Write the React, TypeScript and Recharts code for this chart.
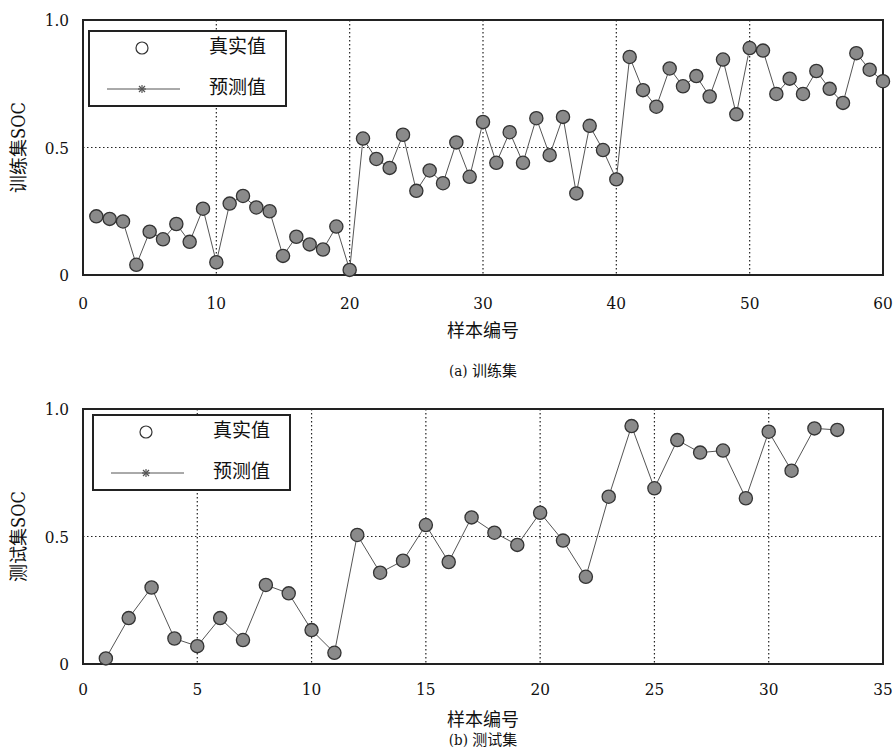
import { CartesianGrid, ComposedChart, Legend, Line, ReferenceArea, Scatter, XAxis, YAxis } from 'recharts'

const SERIF = 'DejaVu Serif Condensed, DejaVu Serif, serif'
const CJK = 'DejaVu Serif Condensed, DejaVu Serif, Noto Sans CJK SC, serif'

// sample numbers
const trainIdx = [
  1, 2, 3, 4, 5, 6, 7, 8, 9, 10, 11, 12, 13, 14, 15, 16, 17, 18, 19, 20,
  21, 22, 23, 24, 25, 26, 27, 28, 29, 30, 31, 32, 33, 34, 35, 36, 37, 38, 39, 40,
  41, 42, 43, 44, 45, 46, 47, 48, 49, 50, 51, 52, 53, 54, 55, 56, 57, 58, 59, 60,
]
const testIdx = [
  1, 2, 3, 4, 5, 6, 7, 8, 9, 10, 11, 12, 13, 14, 15, 16, 17, 18, 19, 20,
  21, 22, 23, 24, 25, 26, 27, 28, 29, 30, 31, 32, 33,
]

// 真实值 (measured SOC)
const trainReal = [
  0.23, 0.22, 0.21, 0.04, 0.17, 0.14, 0.2, 0.13, 0.26, 0.05,
  0.28, 0.31, 0.265, 0.25, 0.075, 0.15, 0.12, 0.1, 0.19, 0.02,
  0.535, 0.455, 0.42, 0.55, 0.33, 0.41, 0.36, 0.52, 0.385, 0.6,
  0.44, 0.56, 0.44, 0.615, 0.47, 0.62, 0.32, 0.585, 0.49, 0.375,
  0.855, 0.725, 0.66, 0.81, 0.74, 0.78, 0.7, 0.845, 0.63, 0.89,
  0.88, 0.71, 0.77, 0.71, 0.8, 0.73, 0.675, 0.87, 0.805, 0.76,
]
const testReal = [
  0.022, 0.18, 0.3, 0.1, 0.07, 0.18, 0.094, 0.31, 0.277, 0.133,
  0.044, 0.506, 0.358, 0.405, 0.545, 0.4, 0.575, 0.515, 0.467, 0.593,
  0.484, 0.342, 0.656, 0.933, 0.689, 0.878, 0.829, 0.837, 0.65, 0.911,
  0.758, 0.924, 0.918,
]

// 预测值 - at this scale the predicted line runs through the measured markers
const trainPred = trainReal
const testPred = testReal

const trainTicks = [0, 10, 20, 30, 40, 50, 60]
const testTicks = [0, 5, 10, 15, 20, 25, 30, 35]
const socTicks = [0, 0.5, 1]

const build = (idx: number[], real: number[], pred: number[]) =>
  idx.map((x, i) => ({ x, real: real[i], pred: pred[i] }))

const trainData = build(trainIdx, trainReal, trainPred)
const testData = build(testIdx, testReal, testPred)

function Marker(props: any) {
  const { cx, cy } = props
  if (cx == null || cy == null) return null
  return <circle cx={cx} cy={cy} r={6.6} fill="#8a8a8a" stroke="#333" strokeWidth={1.3} />
}

function LegendBox() {
  return (
    <div
      style={{
        width: 199,
        height: 77,
        boxSizing: 'border-box',
        border: '2px solid #222',
        background: '#fff',
        position: 'relative',
        fontFamily: CJK,
        fontSize: 19,
        color: '#111',
      }}
    >
      <svg width={110} height={77} style={{ position: 'absolute', left: 0, top: 0 }}>
        <circle cx={52} cy={16} r={6} fill="#fff" stroke="#333" strokeWidth={1.2} />
        <line x1={17} x2={90} y1={57} y2={57} stroke="#555" strokeWidth={1} />
        <g stroke="#555" strokeWidth={1.2}>
          <line x1={48} x2={56} y1={57} y2={57} />
          <line x1={52} x2={52} y1={53} y2={61} />
          <line x1={49} x2={55} y1={54} y2={60} />
          <line x1={49} x2={55} y1={60} y2={54} />
        </g>
      </svg>
      <div style={{ position: 'absolute', left: 119, top: 3, lineHeight: '22px' }}>真实值</div>
      <div style={{ position: 'absolute', left: 119, top: 44, lineHeight: '22px' }}>预测值</div>
    </div>
  )
}

interface PanelProps {
  data: { x: number; real: number; pred: number }[]
  xMax: number
  xTicks: number[]
  yLabel: string
  legendLeft: number
  legendTop: number
  tickGap: number
}

function Panel({ data, xMax, xTicks, yLabel, legendLeft, legendTop, tickGap }: PanelProps) {
  return (
    <ComposedChart width={895} height={345} data={data} margin={{ top: 20, right: 12, bottom: 0, left: 43 }}>
      <CartesianGrid stroke="#222" strokeWidth={1.2} strokeDasharray="1.5 2.5" />
      <XAxis
        type="number"
        dataKey="x"
        domain={[0, xMax]}
        ticks={xTicks}
        interval={0}
        height={70}
        tickLine={false}
        axisLine={false}
        tickMargin={tickGap}
        tick={{ fontSize: 17, fill: '#111', fontFamily: SERIF }}
        label={(p: any) => {
          const vb = p.viewBox
          return (
            <text x={vb.x + vb.width / 2} y={vb.y + 55} textAnchor="middle" dominantBaseline="central"
              fontSize={18} fontFamily={CJK} fill="#111">样本编号</text>
          )
        }}
      />
      <YAxis
        type="number"
        domain={[0, 1]}
        ticks={socTicks}
        width={40}
        tickLine={false}
        axisLine={false}
        tickMargin={8}
        tick={{ fontSize: 17, fill: '#111', fontFamily: SERIF }}
        tickFormatter={(v: number) => (v === 0 ? '0' : v.toFixed(1))}
        label={(p: any) => {
          const vb = p.viewBox
          const cx = 18
          const cy = vb.y + vb.height / 2
          return (
            <text x={cx} y={cy} transform={`rotate(-90 ${cx} ${cy})`} textAnchor="middle"
              dominantBaseline="central" fontSize={18} fontFamily={CJK} fill="#111">{yLabel}</text>
          )
        }}
      />
      <ReferenceArea x1={0} x2={xMax} y1={0} y2={1} fill="none" fillOpacity={0} stroke="#222" strokeWidth={2} />
      <Line type="linear" dataKey="pred" stroke="#555" strokeWidth={1} dot={false} isAnimationActive={false} />
      <Scatter dataKey="real" shape={Marker} isAnimationActive={false} />
      <Legend
        layout="vertical"
        align="center"
        verticalAlign="middle"
        content={() => <LegendBox />}
        wrapperStyle={{ left: legendLeft, top: legendTop, width: 199, height: 77 }}
      />
    </ComposedChart>
  )
}

const caption: React.CSSProperties = {
  position: 'absolute',
  left: 383,
  width: 200,
  textAlign: 'center',
  fontFamily: CJK,
  fontSize: 15,
  color: '#111',
  lineHeight: '18px',
}

export default function App() {
  return (
    <div style={{ position: 'absolute', left: 0, top: 0, width: 895, height: 751, background: '#fff' }}>
      <div style={{ position: 'absolute', left: 0, top: 0 }}>
        <Panel data={trainData} xMax={60} xTicks={trainTicks} yLabel="训练集SOC" legendLeft={88} legendTop={30} tickGap={16} />
      </div>
      <div style={{ ...caption, top: 362 }}>(a) 训练集</div>
      <div style={{ position: 'absolute', left: 0, top: 389 }}>
        <Panel data={testData} xMax={35} xTicks={testTicks} yLabel="测试集SOC" legendLeft={92} legendTop={25} tickGap={13} />
      </div>
      <div style={{ ...caption, top: 731 }}>(b) 测试集</div>
    </div>
  )
}
